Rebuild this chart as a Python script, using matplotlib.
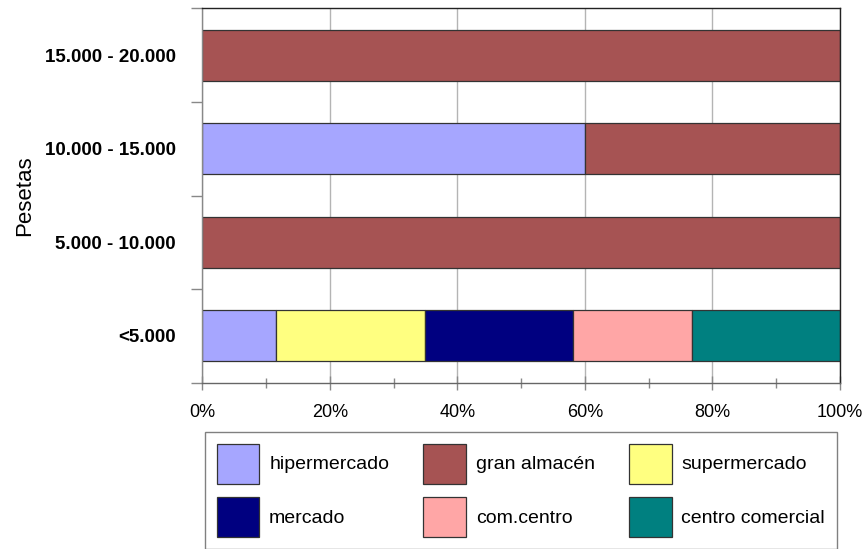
import numpy as np
import matplotlib.pyplot as plt
from matplotlib.ticker import FixedLocator, PercentFormatter

plt.rcParams['font.family'] = ['Liberation Sans', 'DejaVu Sans']

# price ranges, bottom to top
rangos = ['<5.000', '5.000 - 10.000', '10.000 - 15.000', '15.000 - 20.000']

# share of each kind of shop (%) per price range
hipermercado = [11.6, 0, 60, 0]
gran_almacen = [0, 100, 40, 100]
supermercado = [23.3, 0, 0, 0]
mercado = [23.3, 0, 0, 0]
com_centro = [18.6, 0, 0, 0]
centro_comercial = [23.2, 0, 0, 0]

series = [
    ('hipermercado', hipermercado, '#a6a6ff'),
    ('gran almacén', gran_almacen, '#a65353'),
    ('supermercado', supermercado, '#ffff80'),
    ('mercado', mercado, '#000080'),
    ('com.centro', com_centro, '#ffa6a6'),
    ('centro comercial', centro_comercial, '#008080'),
]

fig = plt.figure(figsize=(8.68, 5.49), dpi=100)
ax = fig.add_axes([202.3 / 868, 1 - 382.7 / 549, 637.7 / 868, 374.4 / 549])

y = np.arange(len(rangos))
left = np.zeros(len(rangos))
handles = []
for name, vals, color in series:
    vals = np.array(vals, dtype=float)
    keep = vals > 0
    ax.barh(y[keep], vals[keep], left=left[keep], height=0.545,
            color=color, edgecolor='#333333', linewidth=0.9)
    handles.append(plt.Rectangle((0, 0), 1, 1, facecolor=color,
                                 edgecolor='#333333', linewidth=0.9, label=name))
    left += vals

ax.set_xlim(0, 100)
ax.set_ylim(-0.5, len(rangos) - 0.5)

# x axis: percent ticks with minor marks every 10%
ax.set_xticks(np.arange(0, 101, 20))
ax.xaxis.set_minor_locator(FixedLocator(np.arange(10, 100, 20)))
ax.xaxis.set_major_formatter(PercentFormatter(decimals=0))
ax.tick_params(axis='x', which='major', direction='inout', length=10,
               width=1, color='#888888', labelsize=13, pad=10.5)
ax.tick_params(axis='x', which='minor', direction='inout', length=7,
               width=1, color='#888888')
ax.grid(axis='x', which='major', color='#b4b4b4', linewidth=1)
ax.set_axisbelow(True)

# y axis: labels at the bars, tick marks between categories
ax.set_yticks(y)
ax.set_yticklabels(rangos, fontweight='bold', fontsize=13.5)
ax.yaxis.set_minor_locator(FixedLocator(np.arange(-0.5, len(rangos), 1)))
ax.tick_params(axis='y', which='major', length=0, pad=19)
ax.tick_params(axis='y', which='minor', direction='out', length=8,
               width=1, color='#888888')
ax.set_ylabel('Pesetas', fontsize=16)
ax.yaxis.set_label_coords(-0.262, 0.5)

ax.spines['left'].set_color('#888888')
ax.spines['bottom'].set_color('#666666')
ax.spines['top'].set_color('#222222')
ax.spines['right'].set_color('#222222')
for s in ax.spines.values():
    s.set_linewidth(1)

# legend fills column by column, so reorder to read row by row
ncol = 3
nrow = int(np.ceil(len(handles) / ncol))
order = [r * ncol + c for c in range(ncol) for r in range(nrow)]
leg = fig.legend(handles=[handles[i] for i in order], loc='upper left',
                 bbox_to_anchor=(205 / 868, 1 - 432 / 549),
                 bbox_transform=fig.transFigure, ncol=ncol, fontsize=14,
                 handlelength=2.2, handleheight=2.79, handletextpad=0.5,
                 labelspacing=0.7, columnspacing=1.75, borderpad=0.6,
                 borderaxespad=0, fancybox=False, framealpha=1,
                 edgecolor='#808080')
leg.get_frame().set_linewidth(1)

fig.savefig('out.png', dpi=100)
